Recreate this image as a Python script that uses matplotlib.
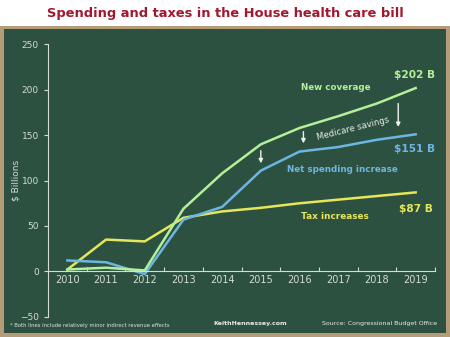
import matplotlib.pyplot as plt
from matplotlib.patches import Rectangle

years = ['2010', '2011', '2012', '2013', '2014', '2015', '2016', '2017', '2018', '2019']
new_coverage = [2, 4, 1, 69, 108, 140, 158, 171, 185, 202]
net_spending = [12, 10, -3, 57, 71, 111, 132, 137, 145, 151]
tax_increases = [2, 35, 33, 59, 66, 70, 75, 79, 83, 87]

W, H = 450, 337
fig = plt.figure(figsize=(4.5, 3.37), dpi=100)
fig.patch.set_facecolor('white')

# tan frame + green board
fig.patches.append(Rectangle((0, 0), 1, 1 - 26 / H, transform=fig.transFigure,
                             facecolor='#b49c78', edgecolor='none', zorder=-2))
fig.patches.append(Rectangle((4 / W, 4 / H), 442 / W, (333 - 29) / H, transform=fig.transFigure,
                             facecolor='#2d5141', edgecolor='none', zorder=-1))

fig.text(0.5, 1 - 13 / H, 'Spending and taxes in the House health care bill',
         ha='center', va='center', fontsize=9.4, fontweight='bold', color='#a3162f')

ax = fig.add_axes([48 / W, 1 - 316.7 / H, (435 - 48) / W, (316.7 - 44.5) / H])
ax.set_facecolor('none')
x = range(len(years))
ax.plot(x, tax_increases, color='#e6e65a', lw=1.8)
ax.plot(x, net_spending, color='#6cb6e2', lw=1.8)
ax.plot(x, new_coverage, color='#b4f09a', lw=1.8)

ax.set_xlim(-0.5, 9.5)
ax.set_ylim(-50, 250)
axis_col = '#d4dcd4'
for s in ['top', 'right']:
    ax.spines[s].set_visible(False)
ax.spines['left'].set_color(axis_col)
ax.spines['bottom'].set_color(axis_col)
ax.spines['bottom'].set_position(('data', 0))
ax.set_yticks(range(-50, 251, 50))
ax.set_xticks([i + 0.5 for i in range(10)])
ax.set_xticklabels([])
ax.tick_params(axis='y', colors=axis_col, labelsize=6.5, length=3)
ax.tick_params(axis='x', colors=axis_col, length=3, direction='in')
for i, yr in enumerate(years):
    ax.text(i, -4, yr, ha='center', va='top', fontsize=7, color=axis_col)
ax.set_ylabel('$ Billions', fontsize=6.5, color=axis_col)
ax.yaxis.set_label_coords(-0.072, 0.5)

ax.text(6.94, 203, 'New coverage', color='#b4f09a', fontsize=6.3, fontweight='bold', ha='center', va='center')
ax.text(8.96, 216, '$202 B', color='#b4f09a', fontsize=7.6, fontweight='bold', ha='center', va='center')
ax.text(7.37, 157, 'Medicare savings', color='#e8ece8', fontsize=6.1, ha='center', va='center', rotation=14)
ax.text(8.98, 135, '$151 B', color='#6cb6e2', fontsize=7.6, fontweight='bold', ha='center', va='center')
ax.text(7.1, 112, 'Net spending increase', color='#6cb6e2', fontsize=6.3, fontweight='bold', ha='center', va='center')
ax.text(9.0, 69, '$87 B', color='#e6e65a', fontsize=7.6, fontweight='bold', ha='center', va='center')
ax.text(6.92, 60, 'Tax increases', color='#e6e65a', fontsize=6.4, fontweight='bold', ha='center', va='center')

arrow = dict(arrowstyle='-|>', color='#f0f0f0', lw=1.0, mutation_scale=6)
ax.annotate('', xy=(5, 116), xytext=(5, 136), arrowprops=arrow)
ax.annotate('', xy=(6.1, 138), xytext=(6.1, 157), arrowprops=arrow)
ax.annotate('', xy=(8.55, 156), xytext=(8.55, 188), arrowprops=arrow)

fig.text(10 / W, 1 - 326 / H, '* Both lines include relatively minor indirect revenue effects',
         fontsize=3.8, color='#dfe4df', va='center')
fig.text(250 / W, 1 - 323 / H, 'KeithHennessey.com', fontsize=4.5, fontweight='bold',
         color='#e8ece8', va='center', ha='center')
fig.text(437 / W, 1 - 323 / H, 'Source: Congressional Budget Office', fontsize=4.5,
         color='#e8ece8', va='center', ha='right')

fig.savefig('out.png', dpi=100, facecolor=fig.get_facecolor())
